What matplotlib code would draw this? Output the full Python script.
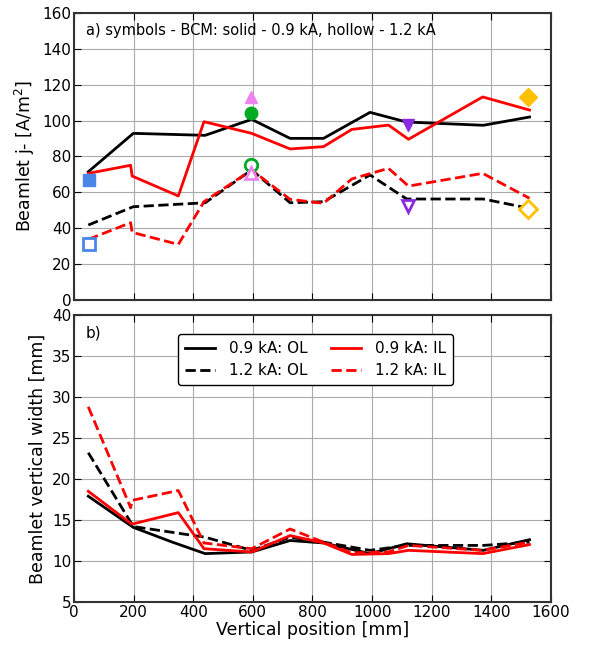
import matplotlib.pyplot as plt
import numpy as np

# positions of the measurement points [mm]
x_ol = [48, 199, 440, 596, 725, 837, 993, 1116, 1373, 1528]
x_il = [48, 190, 195, 350, 436, 596, 725, 837, 932, 1055, 1122, 1371, 1528]

# current density [A/m^2]
j_09_ol = [71.5, 92.9, 91.8, 100.7, 90.1, 90.1, 104.6, 99.2, 97.4, 102.0]
j_12_ol = [41.8, 52.0, 54.2, 72.5, 54.2, 54.8, 69.7, 56.3, 56.3, 51.1]
j_09_il = [70.6, 75.1, 69.1, 58.0, 99.4, 92.9, 84.2, 85.5, 95.1, 97.5, 89.6, 113.2, 105.9]
j_12_il = [33.8, 43.1, 37.7, 31.0, 54.8, 72.5, 56.1, 53.9, 67.5, 73.4, 63.5, 70.6, 56.7]

# vertical beamlet width [mm]
x_w_ol = [48, 199, 330, 440, 596, 725, 837, 993, 1116, 1373, 1528]
w_09_ol = [17.9, 14.1, 12.3, 10.9, 11.1, 12.5, 12.2, 10.9, 12.1, 11.3, 12.6]
w_12_ol = [23.2, 14.2, 12.9, 11.3, 12.9, 12.3, 11.3, 11.9, 11.9, 12.3]
w_09_il = [18.5, 14.6, 14.5, 15.9, 11.5, 11.1, 13.1, 12.2, 10.8, 10.9, 11.3, 10.9, 12.0]
w_12_il = [28.8, 16.5, 17.4, 18.6, 12.2, 11.5, 13.9, 12.3, 11.0, 11.1, 11.9, 11.3, 12.3]

# BCM values: (x, solid 0.9 kA, hollow 1.2 kA, marker, colour)
bcm_x = [51, 593, 593, 1122, 1524]
bcm_09 = [67.0, 104.0, 113.3, 97.5, 113.0]
bcm_12 = [31.2, 75.4, 70.6, 52.4, 50.7]
bcm_marker = ['s', 'o', '^', 'v', 'D']
bcm_color = ['#4a86e8', '#00aa22', '#ee82ee', '#8a2be2', '#ffc000']

plt.rcParams['font.family'] = 'DejaVu Sans'
fig = plt.figure(figsize=(6.08, 6.46), dpi=100)
ax1 = fig.add_axes([0.1217, 0.5356, 0.7845, 0.4443])
ax2 = fig.add_axes([0.1217, 0.0681, 0.7845, 0.4443])

ax1.plot(x_ol, j_09_ol, 'k-', lw=2)
ax1.plot(x_ol, j_12_ol, 'k--', lw=2)
ax1.plot(x_il, j_09_il, 'r-', lw=2)
ax1.plot(x_il, j_12_il, 'r--', lw=2)
for bx, b9, b12, m, c in zip(bcm_x, bcm_09, bcm_12, bcm_marker, bcm_color):
    ax1.plot(bx, b9, m, color=c, ms=9, mec=c)
    ax1.plot(bx, b12, m, mfc='white', mec=c, mew=2, ms=9)
ax1.text(0.025, 0.965, 'a) symbols - BCM: solid - 0.9 kA, hollow - 1.2 kA',
         transform=ax1.transAxes, va='top', fontsize=10.5)
ax1.set_xlim(0, 1600)
ax1.set_ylim(0, 160)
ax1.set_yticks(np.arange(0, 161, 20))
ax1.set_xticklabels([])
ax1.set_ylabel('Beamlet j- [A/m$^2$]', fontsize=12.5, labelpad=4)

ax2.plot(x_w_ol, w_09_ol, 'k-', lw=2, label='0.9 kA: OL')
ax2.plot(x_ol, w_12_ol, 'k--', lw=2, label='1.2 kA: OL')
ax2.plot(x_il, w_09_il, 'r-', lw=2, label='0.9 kA: IL')
ax2.plot(x_il, w_12_il, 'r--', lw=2, label='1.2 kA: IL')
ax2.text(0.025, 0.965, 'b)', transform=ax2.transAxes, va='top', fontsize=11)
ax2.set_xlim(0, 1600)
ax2.set_ylim(5, 40)
ax2.set_xticks(np.arange(0, 1601, 200))
ax2.set_yticks(np.arange(5, 41, 5))
ax2.set_xlabel('Vertical position [mm]', fontsize=12.5, labelpad=1)
ax2.set_ylabel('Beamlet vertical width [mm]', fontsize=12.5, labelpad=4)
leg = ax2.legend(ncol=2, loc='upper center', bbox_to_anchor=(0.506, 0.96),
                 fontsize=11, fancybox=True, framealpha=1, edgecolor='black',
                 columnspacing=1.5, handlelength=2.0, handletextpad=0.9,
                 borderpad=0.45, labelspacing=0.45)
leg.get_frame().set_linewidth(1.0)

for ax in (ax1, ax2):
    ax.grid(True, color='#aaaaaa', lw=0.8)
    ax.tick_params(direction='in', labelsize=11, length=5, pad=2,
                   top=True, right=True)
    for s in ax.spines.values():
        s.set_linewidth(1.5)
        s.set_color('#333333')

fig.savefig('out.png', dpi=100)
